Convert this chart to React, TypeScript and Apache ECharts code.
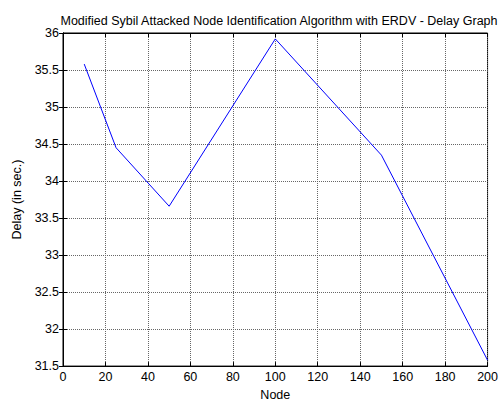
import React, { useEffect, useRef } from "react";
import * as echarts from "echarts";

const nodes = [10, 25, 50, 100, 150, 200];
const delays = [35.58, 34.45, 33.66, 35.92, 34.35, 31.58];
const titleText = "Modified Sybil Attacked Node Identification Algorithm with ERDV - Delay Graph";
const xName = "Node";
const yName = "Delay (in sec.)";

export default function App() {
  const ref = useRef<HTMLDivElement>(null);
  useEffect(() => {
    if (!ref.current) return;
    const chart = echarts.init(ref.current, undefined, { renderer: "svg" });
    const font = "Liberation Sans, Arial, sans-serif";
    const fs = 12.5;
    const splitLine = { show: true, lineStyle: { color: "#666", type: [1, 1] as any, width: 1 } };
    chart.setOption({
      animation: false,
      backgroundColor: "#fff",
      title: {
        text: titleText,
        left: 274,
        textAlign: "center",
        top: 9,
        textStyle: { fontFamily: font, fontSize: fs, fontWeight: "normal", color: "#000" },
      },
      grid: { left: 63, right: 8.5, top: 33, bottom: 35, show: true, borderColor: "#000", borderWidth: 1, backgroundColor: "transparent" },
      xAxis: [
        {
          type: "value",
          min: 0,
          max: 200,
          interval: 20,
          name: xName,
          nameLocation: "middle",
          nameGap: 20,
          nameTextStyle: { fontFamily: font, fontSize: fs, color: "#000" },
          axisLine: { show: true, lineStyle: { color: "#000", width: 1 } },
          axisTick: { show: true, inside: true, length: 4, lineStyle: { color: "#000" } },
          axisLabel: { fontFamily: font, fontSize: fs, color: "#000", margin: 4 },
          splitLine,
        },
        {
          type: "value",
          position: "top",
          min: 0,
          max: 200,
          interval: 20,
          axisLine: { show: true, lineStyle: { color: "#000" } },
          axisTick: { show: true, inside: true, length: 4, lineStyle: { color: "#000" } },
          axisLabel: { show: false },
          splitLine: { show: false },
        },
      ],
      yAxis: [
        {
          type: "value",
          min: 31.5,
          max: 36,
          interval: 0.5,
          name: yName,
          nameLocation: "middle",
          nameGap: 33,
          nameTextStyle: { fontFamily: font, fontSize: fs, color: "#000" },
          axisLine: { show: true, lineStyle: { color: "#000", width: 1 } },
          axisTick: { show: true, inside: true, length: 4, lineStyle: { color: "#000" } },
          axisLabel: { fontFamily: font, fontSize: fs, color: "#000", margin: 4 },
          splitLine,
        },
        {
          type: "value",
          position: "right",
          min: 31.5,
          max: 36,
          interval: 0.5,
          axisLine: { show: true, lineStyle: { color: "#000" } },
          axisTick: { show: true, inside: true, length: 4, lineStyle: { color: "#000" } },
          axisLabel: { show: false },
          splitLine: { show: false },
        },
      ],
      series: [
        {
          type: "line",
          data: nodes.map((n, i) => [n, delays[i]]),
          showSymbol: false,
          symbol: "none",
          lineStyle: { color: "#0000ff", width: 1 },
        },
      ],
    });
    return () => chart.dispose();
  }, []);
  return (
    <div
      ref={ref}
      style={{ position: "fixed", left: 0, top: 0, width: "100vw", height: "100vh" }}
    />
  );
}
